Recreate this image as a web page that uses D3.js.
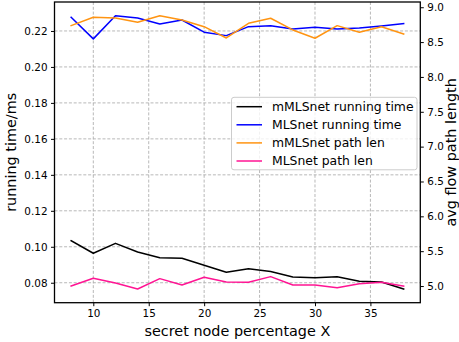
<!DOCTYPE html>
<html>
<head>
<meta charset="utf-8">
<script src="https://cdn.jsdelivr.net/npm/d3@7"></script>
<style>
  html, body { margin: 0; padding: 0; background: #fff; }
  svg { display: block; font-family: "DejaVu Sans", sans-serif; }
</style>
</head>
<body>
<svg id="chart" width="459" height="342"></svg>
<script>
// secret node percentage
const xValues = [8, 10, 12, 14, 16, 18, 20, 22, 24, 26, 28, 30, 32, 34, 36, 38];

// running time (ms), left axis
const mmlsTime = [0.1034, 0.0964, 0.1019, 0.0971, 0.0939, 0.0936, 0.0897, 0.0858,
                  0.0878, 0.0863, 0.0832, 0.0828, 0.0833, 0.0808, 0.0804, 0.0765];
const mlsTime  = [0.2276, 0.2156, 0.2285, 0.2272, 0.2239, 0.2261, 0.2193, 0.2174,
                  0.2224, 0.2229, 0.2211, 0.2221, 0.2211, 0.2217, 0.2228, 0.2241];

// average flow path length, right axis
const mmlsPath = [8.736, 8.856, 8.846, 8.784, 8.879, 8.818, 8.721, 8.559,
                  8.770, 8.842, 8.674, 8.555, 8.736, 8.641, 8.721, 8.616];
const mlsPath  = [5.000, 5.111, 5.043, 4.957, 5.106, 5.014, 5.125, 5.057,
                  5.053, 5.135, 5.014, 5.014, 4.977, 5.034, 5.053, 5.000];

const xTicks = [10, 15, 20, 25, 30, 35];
const leftTicks = [0.08, 0.10, 0.12, 0.14, 0.16, 0.18, 0.20, 0.22];
const rightTicks = [5.0, 5.5, 6.0, 6.5, 7.0, 7.5, 8.0, 8.5, 9.0];

const seriesNames = ["mMLSnet running time", "MLSnet running time", "mMLSnet path len", "MLSnet path len"];
const seriesColors = ["#000000", "#0000ff", "#ff9412", "#ff1493"];

const svg = d3.select("#chart");
const plot = { left: 54.5, right: 420.3, top: 2, bottom: 302.7 };

// autoscale with 5% padding on each side
function padded(values) {
  const [lo, hi] = d3.extent(values);
  const m = (hi - lo) * 0.05;
  return [lo - m, hi + m];
}

const x = d3.scaleLinear().domain(padded(xValues)).range([plot.left, plot.right]);
const yL = d3.scaleLinear().domain(padded(mmlsTime.concat(mlsTime))).range([plot.bottom, plot.top]);
const yR = d3.scaleLinear().domain(padded(mmlsPath.concat(mlsPath))).range([plot.bottom, plot.top]);

// grid
const grid = svg.append("g").attr("class", "grid");
grid.selectAll("line.gx").data(xTicks).join("line")
  .attr("x1", d => x(d)).attr("x2", d => x(d))
  .attr("y1", plot.top).attr("y2", plot.bottom)
  .attr("stroke", "#b0b0b0").attr("stroke-width", 0.9).attr("stroke-dasharray", "3,1.8");
grid.selectAll("line.gy").data(leftTicks).join("line")
  .attr("x1", plot.left).attr("x2", plot.right)
  .attr("y1", d => yL(d)).attr("y2", d => yL(d))
  .attr("stroke", "#b0b0b0").attr("stroke-width", 0.9).attr("stroke-dasharray", "3,1.8");

// series
const series = [
  { vals: mmlsTime, y: yL },
  { vals: mlsTime, y: yL },
  { vals: mmlsPath, y: yR },
  { vals: mlsPath, y: yR }
];
series.forEach((s, i) => {
  const line = d3.line().x((d, j) => x(xValues[j])).y(d => s.y(d));
  svg.append("path").datum(s.vals)
    .attr("d", line)
    .attr("fill", "none")
    .attr("stroke", seriesColors[i])
    .attr("stroke-width", 1.5)
    .attr("stroke-linejoin", "round")
    .attr("stroke-linecap", "square");
});

// axes
const tickFont = "10.4px";
const xAxis = svg.append("g").attr("transform", `translate(0,${plot.bottom})`)
  .call(d3.axisBottom(x).tickValues(xTicks).tickFormat(d3.format("d")).tickSizeInner(3.5).tickSizeOuter(0).tickPadding(3.5));
const leftAxis = svg.append("g").attr("transform", `translate(${plot.left},0)`)
  .call(d3.axisLeft(yL).tickValues(leftTicks).tickFormat(d3.format(".2f")).tickSizeInner(3.5).tickSizeOuter(0).tickPadding(3.5));
const rightAxis = svg.append("g").attr("transform", `translate(${plot.right},0)`)
  .call(d3.axisRight(yR).tickValues(rightTicks).tickFormat(d3.format(".1f")).tickSizeInner(3.5).tickSizeOuter(0).tickPadding(3.5));

[xAxis, leftAxis, rightAxis].forEach(g => {
  g.select(".domain").remove();
  g.selectAll(".tick line").attr("stroke", "#000").attr("stroke-width", 1);
  g.selectAll(".tick text").attr("fill", "#000").style("font-size", tickFont)
    .style("font-family", "DejaVu Sans, sans-serif");
});

// frame
svg.append("rect")
  .attr("x", plot.left).attr("y", plot.top)
  .attr("width", plot.right - plot.left).attr("height", plot.bottom - plot.top)
  .attr("fill", "none").attr("stroke", "#000").attr("stroke-width", 1.3);

// axis titles
svg.append("text")
  .attr("x", (plot.left + plot.right) / 2).attr("y", 335.5)
  .attr("text-anchor", "middle").style("font-size", "14.4px")
  .text("secret node percentage X");
svg.append("text")
  .attr("transform", `translate(16,${(plot.top + plot.bottom) / 2}) rotate(-90)`)
  .attr("text-anchor", "middle").style("font-size", "14.4px")
  .text("running time/ms");
svg.append("text")
  .attr("transform", `translate(456,${(plot.top + plot.bottom) / 2}) rotate(-90)`)
  .attr("text-anchor", "middle").style("font-size", "14.4px")
  .text("avg flow path length");

// legend
const legend = svg.append("g").attr("transform", "translate(231.5,97.3)");
legend.append("rect")
  .attr("width", 185.5).attr("height", 72.5).attr("rx", 2.5)
  .attr("fill", "#fff").attr("fill-opacity", 0.8)
  .attr("stroke", "#cccccc").attr("stroke-width", 1);
seriesNames.forEach((name, i) => {
  const cy = 9.4 + i * 18.1;
  legend.append("line")
    .attr("x1", 5).attr("x2", 30.5).attr("y1", cy).attr("y2", cy)
    .attr("stroke", seriesColors[i]).attr("stroke-width", 1.5);
  legend.append("text")
    .attr("x", 40.5).attr("y", cy).attr("dy", "0.36em")
    .style("font-size", "12.4px")
    .text(name);
});
</script>
</body>
</html>
